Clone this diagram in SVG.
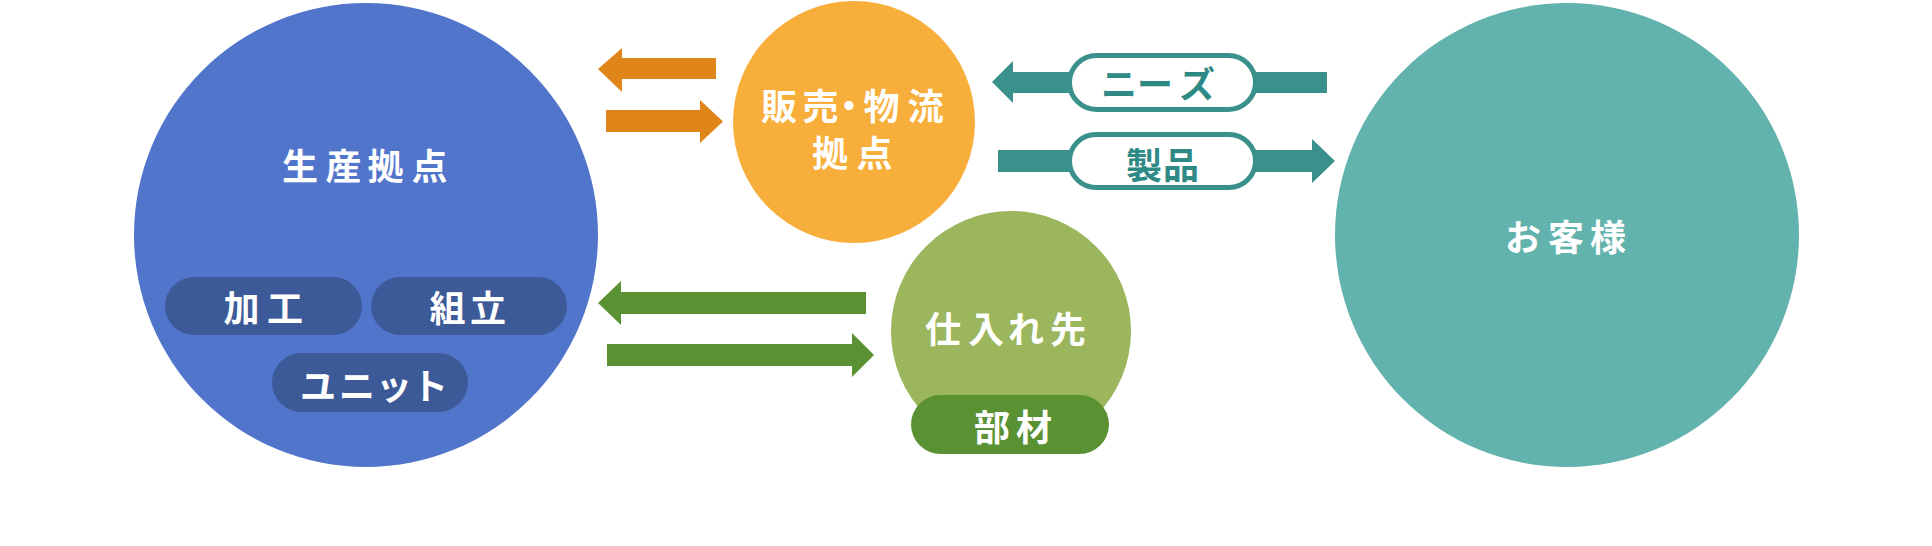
<svg xmlns="http://www.w3.org/2000/svg" width="1932" height="546" viewBox="0 0 1932 546">
<style>
text{font-family:"Noto Sans CJK JP","Noto Sans",sans-serif;font-weight:700;font-size:36px;text-anchor:middle}
.w{fill:#ffffff}
.t{fill:#2f8a85}
.pill{fill:#ffffff;stroke:#3a908b;stroke-width:5}
</style>
<rect width="1932" height="546" fill="#ffffff"/>
<g id="connectors">
  <polygon fill="#df8519" points="598,69 622,48 622,58 716,58 716,79 622,79 622,92"/>
  <polygon fill="#df8519" points="723,121.5 700,100 700,110 606,110 606,132 700,132 700,143"/>
  <polygon fill="#5a9132" points="598,303 621,281 621,292 866,292 866,314 621,314 621,325"/>
  <polygon fill="#5a9132" points="874,355 852,333 852,344 607,344 607,366 852,366 852,377"/>
  <polygon fill="#3a908b" points="992,82 1013,61 1013,72 1327,72 1327,93 1013,93 1013,103"/>
  <polygon fill="#3a908b" points="1335,161 1312,139 1312,150 998,150 998,172 1312,172 1312,183"/>
</g>
<g id="label-needs">
  <rect class="pill" x="1069.5" y="55.5" width="186" height="54" rx="27"/>
  <text class="t" x="1119 1155 1197" y="98">ニーズ</text>
</g>
<g id="label-product">
  <rect class="pill" x="1069.5" y="134.5" width="186" height="53" rx="26.5"/>
  <text class="t" x="1144 1181" y="179">製品</text>
</g>
<g id="node-production">
  <circle cx="366" cy="235" r="232" fill="#5275cc"/>
  <text class="w" x="300 343.5 385.5 429.5" y="180">生産拠点</text>
  <rect x="165" y="277" width="197" height="58" rx="29" fill="#3d5a98"/>
  <text class="w" x="241.5 285" y="322">加工</text>
  <rect x="371" y="277" width="196" height="58" rx="29" fill="#3d5a98"/>
  <text class="w" x="447.5 488" y="322">組立</text>
  <rect x="272" y="353" width="196" height="59" rx="29.5" fill="#3d5a98"/>
  <text class="w" x="318 357 394 430" y="400">ユニット</text>
</g>
<g id="node-sales">
  <circle cx="854" cy="122" r="121" fill="#f8ae3b"/>
  <text class="w" x="779 820.5 849 881.5 925.5" y="120">販売・物流</text>
  <text class="w" x="830 874.5" y="167">拠点</text>
</g>
<g id="node-supplier">
  <circle cx="1011" cy="331" r="120" fill="#9bb65c"/>
  <text class="w" x="943 986 1026 1068" y="343">仕入れ先</text>
  <rect x="911" y="395" width="198" height="59" rx="29.5" fill="#5a9132"/>
  <text class="w" x="992 1034" y="441">部材</text>
</g>
<g id="node-customer">
  <circle cx="1567" cy="235" r="232" fill="#62b2ad"/>
  <text class="w" x="1523 1566 1608" y="251">お客様</text>
</g>
</svg>
